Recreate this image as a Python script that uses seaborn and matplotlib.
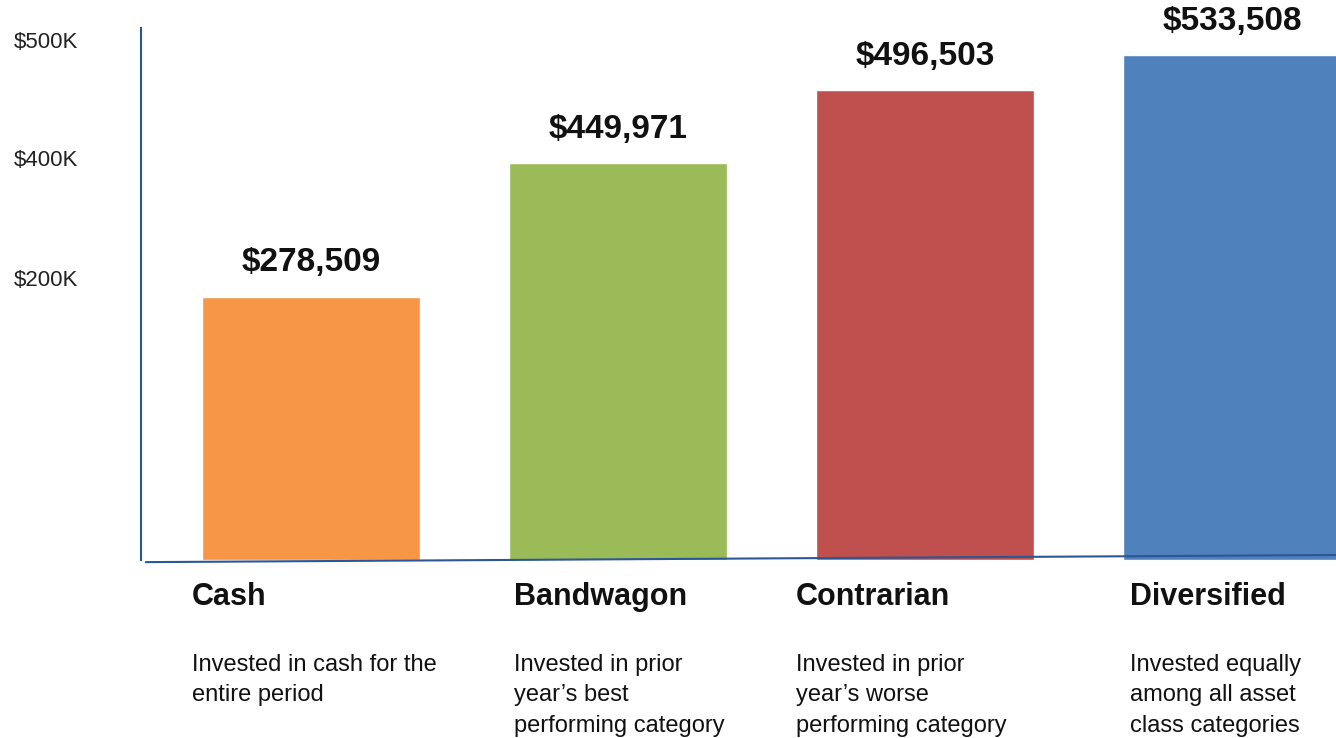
import matplotlib
matplotlib.use("Agg")
import matplotlib.pyplot as plt
import seaborn as sns
import pandas as pd

# ---- data ----
categories = ["Cash", "Bandwagon", "Contrarian", "Diversified"]
values = [278509, 449971, 496503, 533508]          # printed labels
bar_heights = [278509, 420000, 496503, 533508]     # heights as drawn in the picture
descriptions = [
    "Invested in cash for the\nentire period",
    "Invested in prior\nyear\u2019s best\nperforming category",
    "Invested in prior\nyear\u2019s worse\nperforming category",
    "Invested equally\namong all asset\nclass categories",
]
colors = ["#F79646", "#9BBB59", "#C0504D", "#4F81BD"]
tick_labels = ["$200K", "$400K", "$500K"]
tick_positions = [298000, 425000, 550000]

sns.set_style("white")
plt.rcParams["font.family"] = ["Liberation Sans", "DejaVu Sans"]

df = pd.DataFrame({"cat": categories, "val": bar_heights})

fig = plt.figure(figsize=(13.36, 7.38), dpi=100)
ax = fig.add_axes([141 / 1336, 1 - 560 / 738, 1 - 141 / 1336, (560 - 28) / 738])

sns.barplot(data=df, x="cat", y="val", hue="cat", palette=colors, legend=False,
            width=0.71, saturation=1, ax=ax)

ax.set_xlim(-0.554, 3.339)
ax.set_ylim(0, 562400)

for c, v in zip(ax.containers, values):
    ax.bar_label(c, labels=[f"${v:,.0f}"], padding=13, fontsize=24,
                 fontweight="bold", color="#111111")

ax.set_xticks([])
ax.set_xlabel("")
ax.set_ylabel("")
ax.set_yticks(tick_positions)
ax.set_yticklabels(tick_labels, fontsize=16, color="#222222")
ax.tick_params(axis="y", length=0, pad=45)

for s in ["top", "right", "bottom"]:
    ax.spines[s].set_visible(False)
ax.spines["left"].set_color("#2B5797")
ax.spines["left"].set_linewidth(1.5)

# slanted baseline
ax.plot([0.004, 1.0], [-0.004, 0.0094], transform=ax.transAxes, color="#2B5797",
        lw=1.5, clip_on=False)

name_dx = [-0.388, -0.340, -0.420, -0.332]
trans = ax.get_xaxis_transform()
for i, (n, d) in enumerate(zip(categories, descriptions)):
    ax.text(i + name_dx[i], -0.085, n, transform=trans, fontsize=22,
            fontweight="bold", ha="left", va="baseline", color="#111111")
    ax.text(i + name_dx[i], -0.176, d, transform=trans, fontsize=17,
            ha="left", va="top", linespacing=1.52, color="#111111")

fig.savefig("out.png", dpi=100)
